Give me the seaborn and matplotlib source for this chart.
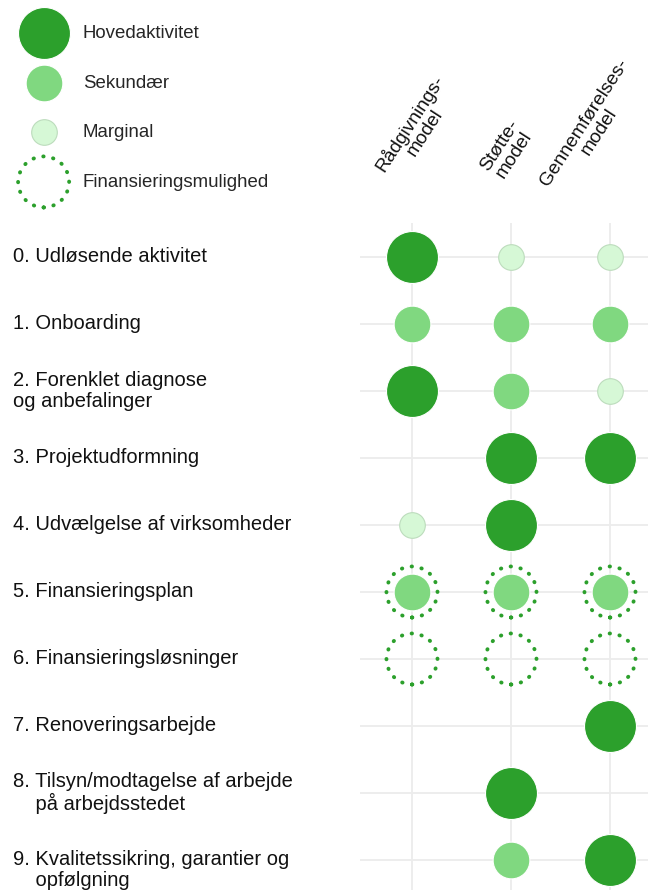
import numpy as np
import pandas as pd
import matplotlib
matplotlib.use("Agg")
import matplotlib.pyplot as plt
import matplotlib.transforms as mtransforms
import seaborn as sns

# rows (process steps) and columns (models)
steps = [
    "0. Udløsende aktivitet",
    "1. Onboarding",
    "2. Forenklet diagnose\nog anbefalinger",
    "3. Projektudformning",
    "4. Udvælgelse af virksomheder",
    "5. Finansieringsplan",
    "6. Finansieringsløsninger",
    "7. Renoveringsarbejde",
    "8. Tilsyn/modtagelse af arbejde\n    på arbejdsstedet",
    "9. Kvalitetssikring, garantier og\n    opfølgning",
]
models = ["Rådgivnings-\nmodel", "Støtte-\nmodel", "Gennemførelses-\nmodel"]

# 0 = none, 1 = marginal, 2 = sekundær, 3 = hovedaktivitet
raadgivning = [3, 2, 3, 0, 1, 2, 0, 0, 0, 0]
stoette = [1, 2, 2, 3, 3, 2, 0, 0, 3, 2]
gennemfoerelse = [1, 2, 1, 3, 0, 2, 0, 3, 0, 3]
# steps with a financing option (dotted ring) in every model
finansiering = [5, 6]

level_names = {3: "Hovedaktivitet", 2: "Sekundær", 1: "Marginal"}
ring_name = "Finansieringsmulighed"

# long table
rows = []
for m, vals in enumerate([raadgivning, stoette, gennemfoerelse]):
    for i, v in enumerate(vals):
        rows.append({"model": m, "step": i, "level": v})
df = pd.DataFrame(rows)
fin_df = pd.DataFrame([{"model": m, "step": i} for m in range(3) for i in finansiering])

sns.set_style("white")
plt.rcParams["font.family"] = ["Liberation Sans", "DejaVu Sans"]

fig = plt.figure(figsize=(6.48, 8.90), dpi=100)
ax = fig.add_axes([360 / 648, 0.0, 288 / 648, 0.7489])

colors = {3: "#2ca02c", 2: "#80d880", 1: "#d6f8d6"}
edges = {3: "#ffffff", 2: "#ffffff", 1: "#bcdcbc"}
sizes = {3: 1400, 2: 700, 1: 340}

handles = {}
for lvl in [3, 2, 1]:
    sub = df[df["level"] == lvl]
    sns.scatterplot(data=sub, x="model", y="step", s=sizes[lvl], color=colors[lvl],
                    edgecolor=edges[lvl], linewidth=0.8, ax=ax, zorder=3,
                    label=level_names[lvl], legend=False)
    handles[lvl] = ax.collections[-1]

# dotted ring, gap chosen so 16 dots close evenly round the circle
sns.scatterplot(data=fin_df, x="model", y="step", s=1350, color="#2ca02c",
                facecolor="none", edgecolor="#2ca02c", linewidth=2.8,
                linestyle=(0, (0.1, 2.476)), ax=ax, zorder=4, legend=False)
ring = ax.collections[-1]
ring.set_capstyle("round")

ax.set_xlim(-0.525, 2.384)
ax.set_ylim(9.448, -0.5)
ax.set_xticks(range(3))
ax.set_yticks(range(10))
ax.set_xticklabels([])
ax.set_yticklabels([])
ax.tick_params(length=0)
ax.set_xlabel("")
ax.set_ylabel("")
ax.grid(True, color="#ececec", linewidth=1.3)
ax.set_axisbelow(True)
for sp in ax.spines.values():
    sp.set_visible(False)

# row labels on the left (last one sits a bit lower, as in the original)
trans = mtransforms.blended_transform_factory(fig.transFigure, ax.transData)
for i, lab in enumerate(steps):
    dy = 0.15 if i == 9 else 0.0
    ax.text(13 / 648, i + dy, lab, transform=trans, ha="left", va="center",
            fontsize=14.5, color="#111111", linespacing=1.1)

# rotated column headers
hdr_pos = [(417, 128), (507, 150), (592, 127)]
for lab, (px, py) in zip(models, hdr_pos):
    fig.text(px / 648, 1 - py / 890, lab, rotation=57, ha="center", va="center",
             multialignment="center", fontsize=13.8, color="#111111", linespacing=1.0)

# legend
leg = fig.legend([handles[3], handles[2], handles[1], ring],
                 [level_names[3], level_names[2], level_names[1], ring_name],
                 loc="upper left", bbox_to_anchor=(25 / 648, 1 - 25 / 890),
                 frameon=False, fontsize=13.4, labelspacing=1.75,
                 handletextpad=1.1, borderpad=0, borderaxespad=0)
leg.legend_handles[3].set_capstyle("round")

fig.savefig("out.png", dpi=100, facecolor="white")
